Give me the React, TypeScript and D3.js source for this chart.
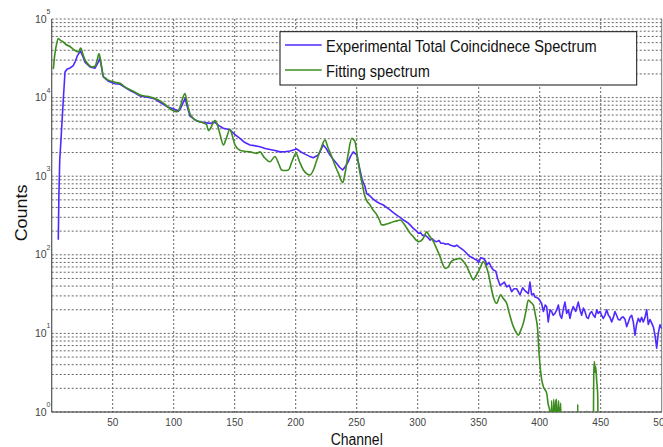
import React from "react";
import * as d3 from "d3";

const xTicks = [50, 100, 150, 200, 250, 300, 350, 400, 450, 500];
const yDecades = [0, 1, 2, 3, 4, 5];
const seriesNames = ["Experimental Total Coincidnece Spectrum", "Fitting spectrum"];

const experimental: [number, number][] = [
  [5.4, 155], [5.9, 575], [6.6, 1620], [7.6, 2900], [9.5, 9300], [10.9, 21200], [12.5, 23000],
  [15, 23800], [17.5, 25300], [19.1, 28300], [21, 33900], [23.5, 39000], [25, 35000], [27.3, 28300],
  [31.4, 24600], [35.5, 23700], [38.2, 28300], [39.5, 31900], [42.3, 18300], [46.4, 16200],
  [52, 15000], [56, 14800], [60, 13500], [64.2, 12300], [68, 11500], [72.4, 10500], [76, 10300],
  [80.6, 10000], [84, 9700], [87.4, 9000], [91.5, 8200], [95, 7600], [99.7, 7200], [103.8, 6700],
  [106, 7500], [109.3, 9800], [111, 7800], [113.4, 5800], [117.5, 5200], [121.6, 4900], [125, 4800],
  [129.8, 4700], [133.9, 4850], [137, 4400], [140.7, 4070], [146.1, 3890], [150, 3400], [154.3, 3030],
  [158, 2700], [162.5, 2500], [166, 2450], [170.7, 2370], [175, 2250], [178.9, 2190], [183, 2120],
  [187.1, 2040], [191, 2050], [195.3, 2090], [200.8, 2220], [204, 2050], [207.6, 1910], [211, 1800],
  [214.4, 1720], [218.5, 1860], [220.5, 2150], [222.6, 2500], [225, 2250], [228.1, 1860], [231, 1620],
  [233.6, 1450], [236, 1300], [238.5, 1200], [241, 1350], [243.1, 1530], [245, 1800], [247.2, 2040],
  [250, 1860], [252.7, 1200], [254.5, 900], [256.8, 740], [258.2, 600], [260.9, 560], [263.5, 510],
  [266.4, 473], [269, 450], [271.8, 430], [274.5, 400], [277.3, 372], [280, 345], [282.8, 320],
  [285.5, 300], [288.2, 277], [290.3, 265], [292.3, 253], [294.3, 235], [296.4, 217], [298.4, 205],
  [300.5, 188], [302.5, 190], [304, 176], [306, 178], [308, 168], [310, 154], [312, 160], [313.8, 150],
  [315.6, 147], [317.5, 152], [319, 140], [321, 140], [323, 136], [325, 138], [326.5, 133], [328.5, 130],
  [330.5, 128], [332, 133], [334, 125], [335.8, 120], [337.4, 115], [339.5, 107], [341.2, 100],
  [342.9, 95], [345, 92], [346.7, 88], [348.4, 86], [350, 80], [351.7, 92], [353.8, 90], [355.5, 84],
  [356.6, 74], [358.5, 80], [360.2, 70], [362, 64], [364, 62], [365.5, 50], [367.5, 41], [369.5, 43],
  [371, 45], [373, 39], [375, 41], [377, 34], [379, 37], [381.1, 37], [383.9, 31], [386, 38],
  [387.9, 35], [390.7, 32], [392, 45], [393.4, 31], [395, 32], [396.2, 29], [398.9, 28], [401.6, 24],
  [403, 19], [404.5, 23], [405.7, 22], [407, 14], [408.5, 20], [409.8, 19], [411, 17], [412.5, 18],
  [414, 20], [415.3, 23], [416.7, 17], [418, 15.5], [419.5, 21], [420.7, 25], [422.1, 18], [423.5, 20],
  [424.8, 15.5], [426, 19], [427.5, 22], [429.5, 19], [431.6, 25], [433, 20], [434.4, 17], [435.8, 21],
  [437.1, 19], [438.5, 16], [439.8, 15.5], [441.2, 18], [442.6, 19], [444, 17], [445.3, 16], [446.8, 20],
  [448, 18], [449.4, 19], [450.8, 17], [452.1, 15.5], [453.5, 17], [454.9, 20], [456.3, 17], [457.6, 16],
  [459, 14], [460.4, 16], [461.7, 19], [463, 17], [464.4, 15], [465.8, 14.8], [467.2, 16], [468.5, 16.2],
  [470, 15], [471.3, 12.2], [472.7, 14], [474, 16], [475.4, 17], [476.7, 14], [478.1, 9.5], [479.4, 13],
  [480.8, 15.5], [482.2, 14], [483.5, 16], [484.9, 14], [486.3, 16], [487.7, 20], [489, 13], [490.4, 15],
  [491.8, 13.5], [493.2, 12], [494.5, 9.5], [495.9, 6.5], [497.2, 10], [498.6, 12.9], [500, 11.5],
];

const fitting: [number, number][] = [
  [1.3, 23000], [2.5, 35000], [4, 48000], [5.4, 56600], [7.5, 53000], [9.5, 51000], [12, 47000],
  [15, 44700], [17, 42000], [19.1, 39800], [21.8, 38000], [23.8, 42600], [25.5, 36000], [27.3, 30200],
  [30, 26500], [32.8, 24500], [35.5, 25100], [37.5, 31000], [38.8, 36300], [40.5, 27000], [42.3, 18600],
  [44.5, 17500], [46.4, 16700], [50, 16000], [53, 15500], [56, 15200], [60, 13700], [64.2, 12600],
  [68, 11800], [72.4, 10800], [76, 10500], [80.6, 10200], [84, 9800], [87.4, 9300], [91.5, 8500],
  [95, 7700], [97.5, 7100], [100, 6800], [103, 6600], [105.5, 7800], [107.5, 10000], [109.3, 11300],
  [111, 8500], [113.4, 6200], [116, 5450], [120, 5000], [124, 4800], [127, 4500], [128.4, 3800],
  [130, 4000], [131.5, 4500], [133.9, 5100], [136, 4400], [138, 3400], [140.7, 2500], [143, 3000],
  [146.1, 3960], [148, 3300], [150.2, 2500], [154.3, 2140], [158, 2080], [162.5, 2040], [168, 1950],
  [170.7, 2040], [174, 1750], [178.9, 1530], [183, 1780], [186, 1450], [188.5, 1200], [191, 1180],
  [194, 1200], [197, 1550], [200.3, 1950], [203, 1550], [206.3, 1200], [209, 1080], [211.7, 1035],
  [214.5, 1200], [217.2, 1580], [220.5, 2200], [224, 2900], [226.5, 2300], [229.5, 1780], [232, 1400],
  [234.9, 1100], [238.5, 830], [240.5, 1100], [243.1, 1950], [245.9, 3030], [248.6, 2750], [250.5, 1800],
  [252.7, 1100], [254.5, 800], [256.8, 550], [258.5, 480], [260.9, 430], [263.5, 370], [266.4, 324],
  [268.5, 280], [270.5, 240], [273, 242], [276, 250], [280, 263], [283, 270], [285.5, 277], [288.5, 250],
  [291, 219], [293.5, 190], [296.4, 170], [298.5, 155], [300.5, 147], [302.5, 150], [304.6, 162],
  [307.4, 196], [309.5, 175], [312.8, 148], [315.5, 120], [318.3, 95], [320.5, 76], [322.4, 67],
  [325, 70], [327, 80], [329.2, 86], [332, 88], [334.7, 90], [337.5, 82], [340.2, 71], [343, 57],
  [345.6, 48], [347.5, 53], [349.7, 61], [352, 73], [353.8, 82], [356, 72], [357.9, 58], [360, 40],
  [362, 29], [364.8, 24], [366.5, 28], [368, 31], [370, 28], [373, 24], [375.5, 17], [378.4, 12.2],
  [380.5, 10.5], [382.5, 9.5], [384.5, 11], [386.6, 13.5], [388.7, 19], [390.7, 26.6], [392.5, 25],
  [394.8, 22.9], [396.5, 17], [398.1, 12.2], [399.7, 5], [401.6, 2.6], [403, 2.1], [405.7, 1.74],
  [407, 1.25], [408.4, 1.0], [409, 0.3], [409.8, 1.4], [410.5, 0.4], [411.5, 1.45], [412.3, 0.5],
  [413, 1.3], [413.8, 1.45], [414.6, 0.5], [415.5, 1.4], [416.3, 0.6], [417.2, 1.3], [418, 0.3],
  [430.8, 0.3], [431.2, 1.25], [431.6, 0.3], [438.3, 0.3], [438.6, 1.03], [439, 0.3], [443.8, 0.3],
  [444.3, 3], [444.8, 4.4], [445.4, 3.2], [445.9, 3.8], [446.7, 2.5], [447.5, 1.7], [448.2, 0.3],
  [500, 0.3],
];

const W = 663;
const H = 447;
const M = { left: 51.7, right: 661.7, top: 19, bottom: 412 };
const FONT = "'Liberation Sans', Arial, Helvetica, sans-serif";
const BLUE = "#5128ff";
const GREEN = "#3d8c1f";

export default function App() {
  const x = d3.scaleLinear().domain([0, 500]).range([M.left, M.right]);
  const y = d3.scaleLog().domain([1, 1e5]).range([M.bottom, M.top]);
  const lineLin = d3
    .line<[number, number]>()
    .x((d) => x(d[0]))
    .y((d) => y(d[1]));
  const lineSmooth = d3
    .line<[number, number]>()
    .x((d) => x(d[0]))
    .y((d) => y(d[1]))
    .curve(d3.curveMonotoneX);

  const minor: number[] = [];
  for (let d = 0; d < 5; d++) for (let k = 2; k <= 9; k++) minor.push(k * Math.pow(10, d));

  const grid = { stroke: "#666", strokeWidth: 1, strokeDasharray: "2,2" };

  return (
    <svg
      width={W}
      height={H}
      style={{ position: "absolute", left: 0, top: 0, background: "#fff" }}
      fontFamily={FONT}
    >
      <defs>
        <clipPath id="plot">
          <rect x={M.left} y={M.top} width={M.right - M.left} height={M.bottom - M.top} />
        </clipPath>
      </defs>
      <rect x={0} y={0} width={W} height={H} fill="#fff" />
      {minor.map((v) => (
        <line key={"m" + v} x1={M.left} x2={M.right} y1={y(v)} y2={y(v)} {...grid} />
      ))}
      {yDecades.map((e) => (
        <line key={"d" + e} x1={M.left} x2={M.right} y1={y(Math.pow(10, e))} y2={y(Math.pow(10, e))} {...grid} />
      ))}
      {xTicks.slice(0, -1).map((t) => (
        <line key={"v" + t} x1={x(t)} x2={x(t)} y1={M.top} y2={M.bottom} {...grid} />
      ))}
      <line x1={M.left} x2={M.left} y1={M.top} y2={M.bottom} stroke="#555" strokeWidth={1.2} />
      <line x1={M.left} x2={M.right} y1={M.bottom} y2={M.bottom} stroke="#333" strokeWidth={1.2} />
      <line x1={M.right} x2={M.right} y1={M.top} y2={M.bottom} stroke="#777" strokeWidth={1} />

      <g clipPath="url(#plot)">
        <path d={lineLin(experimental) || ""} fill="none" stroke={BLUE} strokeWidth={1.6} strokeLinejoin="round" />
        <path d={lineSmooth(fitting) || ""} fill="none" stroke={GREEN} strokeWidth={1.6} strokeLinejoin="round" />
      </g>

      {yDecades.map((e) => {
        const yy = y(Math.pow(10, e));
        return (
          <g key={"yl" + e} transform={`translate(0,${yy})`} fill="#444">
            <text x={35} y={3.5} fontSize={10.5} transform="scale(1,1.05)">
              10
            </text>
            <text x={46.5} y={-5} fontSize={7}>
              {e}
            </text>
          </g>
        );
      })}
      {xTicks.map((t) => (
        <text
          key={"xl" + t}
          transform={`translate(${x(t)},426) scale(1,1.08)`}
          textAnchor="middle"
          fontSize={10}
          fill="#444"
        >
          {t}
        </text>
      ))}
      <text transform={`translate(356.7,445) scale(1,1.17)`} textAnchor="middle" fontSize={14} fill="#111">
        Channel
      </text>
      <text transform={`translate(26.5,213) rotate(-90) scale(1.12,1)`} textAnchor="middle" fontSize={16} fill="#111">
        Counts
      </text>

      <rect x={280} y={31.7} width={356.7} height={53.3} fill="#fff" stroke="#111" strokeWidth={1} />
      <line x1={285} x2={321.7} y1={45} y2={45} stroke={BLUE} strokeWidth={1.3} />
      <line x1={285} x2={321.7} y1={70} y2={70} stroke={GREEN} strokeWidth={1.3} />
      <text transform="translate(326,52.3) scale(1,1.12)" fontSize={14.6} fill="#111">
        {seriesNames[0]}
      </text>
      <text transform="translate(326,77.3) scale(1,1.12)" fontSize={14.6} fill="#111">
        {seriesNames[1]}
      </text>
    </svg>
  );
}
